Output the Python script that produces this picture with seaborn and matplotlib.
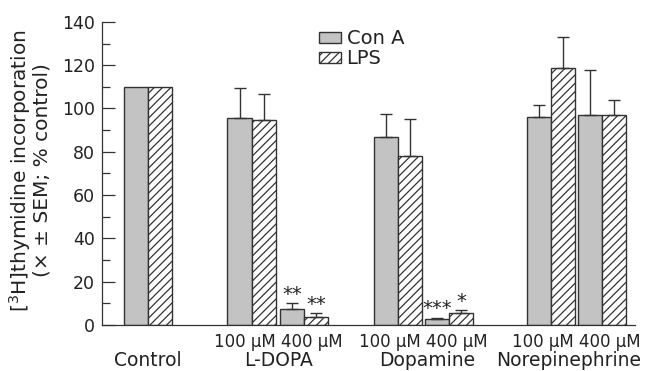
import matplotlib
matplotlib.use("Agg")
import matplotlib.pyplot as plt
from matplotlib.patches import Patch
from matplotlib.ticker import MultipleLocator
import pandas as pd
import seaborn as sns

# Data (% of control)
conditions = ["Control", "L-DOPA 100", "L-DOPA 400", "Dopamine 100",
              "Dopamine 400", "Norepinephrine 100", "Norepinephrine 400"]
cona_mean = [110, 95.5, 7.2, 86.7, 2.6, 96.0, 97.2]
cona_sem = [0, 13.9, 3.0, 10.8, 0.8, 5.5, 20.6]
lps_mean = [110, 94.7, 3.9, 78.1, 5.4, 118.6, 97.2]
lps_sem = [0, 11.9, 1.5, 16.9, 1.5, 14.4, 6.6]
cona_stars = ["", "", "**", "", "***", "", ""]
lps_stars = ["", "", "**", "", "*", "", ""]
group_names = ["Control", "L-DOPA", "Dopamine", "Norepinephrine"]
dose_labels = ["", "100 µM 400 µM", "100 µM 400 µM", "100 µM 400 µM"]
series = ["Con A", "LPS"]

# layout of the bar pairs along x (irregular spacing as in the figure)
xpos = [0, 2.01, 3.03, 4.85, 5.84, 7.82, 8.82]
group_x = [0, (xpos[1] + xpos[2]) / 2, (xpos[3] + xpos[4]) / 2, (xpos[5] + xpos[6]) / 2]
name_x = [0, 2.53, 5.42, 8.16]

df = pd.DataFrame({
    "x": xpos * 2,
    "treatment": [series[0]] * len(xpos) + [series[1]] * len(xpos),
    "value": cona_mean + lps_mean,
})

sns.set_style("ticks")
plt.rcParams["font.family"] = ["DejaVu Sans"]
plt.rcParams["mathtext.fontset"] = "dejavusans"
plt.rcParams["hatch.color"] = "#222222"
plt.rcParams["hatch.linewidth"] = 0.9

fig = plt.figure(figsize=(6.49, 3.71), dpi=100)
ax = fig.add_axes([0.157, 0.124, 0.821, 0.817])

palette = {"Con A": "#c3c3c3", "LPS": "white"}
sns.barplot(data=df, x="x", y="value", hue="treatment", hue_order=series,
            native_scale=True, palette=palette, width=0.95, errorbar=None,
            edgecolor="#333333", linewidth=1.0, legend=False, ax=ax)

means = [cona_mean, lps_mean]
sems = [cona_sem, lps_sem]
stars = [cona_stars, lps_stars]
bar_containers = list(ax.containers)
for i, cont in enumerate(bar_containers):
    bars = sorted(cont.patches, key=lambda b: b.get_x())
    centers = [b.get_x() + b.get_width() / 2 for b in bars]
    if series[i] == "LPS":
        for b in bars:
            b.set_hatch("////")
    errx = [c for c, e in zip(centers, sems[i]) if e > 0]
    erry = [m for m, e in zip(means[i], sems[i]) if e > 0]
    erre = [e for e in sems[i] if e > 0]
    ax.errorbar(errx, erry, yerr=[[0] * len(erre), erre], fmt="none",
                ecolor="#333333", elinewidth=1.0, capsize=4.5, capthick=1.0)
    for c, m, e, s in zip(centers, means[i], sems[i], stars[i]):
        if s:
            ax.text(c, m + e + 4.0, s, ha="center", va="center", fontsize=14,
                    color="#222222")

ax.set_xlim(-0.90, 9.45)
ax.set_ylim(0, 140)
ax.yaxis.set_major_locator(MultipleLocator(20))
ax.yaxis.set_minor_locator(MultipleLocator(10))
ax.tick_params(axis="y", which="major", direction="in", length=9.5, width=0.9,
               labelsize=12.5, pad=5, colors="#333333", labelcolor="#222222")
ax.tick_params(axis="y", which="minor", direction="in", length=5.5, width=0.9,
               colors="#333333")
ax.set_xticks(group_x)
ax.set_xticklabels(dose_labels)
ax.tick_params(axis="x", length=0, labelsize=12, pad=6, labelcolor="#222222")
for gx, name in zip(name_x, group_names):
    ax.text(gx, -0.118, name, transform=ax.get_xaxis_transform(),
            ha="center", va="center", fontsize=13.5, color="#222222")

ax.set_xlabel("")
ax.set_ylabel("[$^{3}$H]thymidine incorporation\n(× ± SEM; % control)",
              fontsize=14.5, linespacing=0.95, color="#222222")
ax.yaxis.set_label_coords(-0.095, 0.51)

for sp in ["top", "right"]:
    ax.spines[sp].set_visible(False)
for sp in ["left", "bottom"]:
    ax.spines[sp].set_linewidth(0.9)
    ax.spines[sp].set_color("#333333")

handles = [Patch(facecolor=palette["Con A"], edgecolor="#333333", label="Con A"),
           Patch(facecolor="white", edgecolor="#333333", hatch="////", label="LPS")]
ax.legend(handles=handles, loc="upper left", bbox_to_anchor=(0.408, 0.975),
          frameon=False, fontsize=14, handlelength=1.1, handleheight=0.5,
          handletextpad=0.3, labelspacing=0.05, borderpad=0, borderaxespad=0,
          labelcolor="#222222")

fig.savefig("out.png", dpi=100)
